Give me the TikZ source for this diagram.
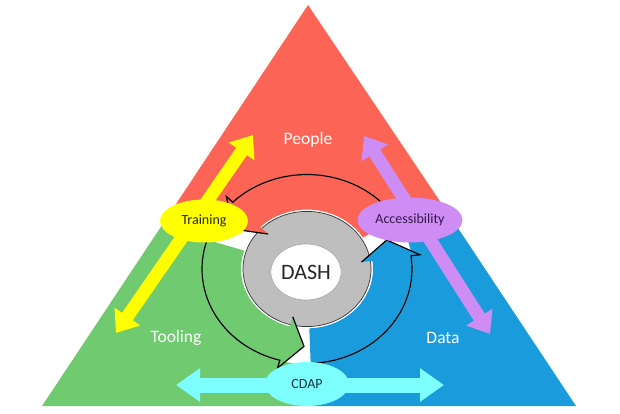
\documentclass[tikz,border=0pt]{standalone}
\usepackage{fontspec}
\setmainfont{Carlito}
\usetikzlibrary{arrows.meta,shapes.geometric}
\definecolor{cred}{RGB}{252,100,86}
\definecolor{cgreen}{RGB}{112,202,112}
\definecolor{cblue}{RGB}{26,156,220}
\definecolor{cyel}{RGB}{255,255,0}
\definecolor{clav}{RGB}{206,140,245}
\definecolor{ccyan}{RGB}{125,255,255}
\definecolor{cgrey}{RGB}{190,190,190}
\newcommand\cycarr[4]{%
  \fill[#1] (#2:66) -- (#2:105) arc[start angle=#2, end angle=#3, radius=105]
    -- (#3:114) -- (#4:86) -- (#3:55) -- (#3:66)
    arc[start angle=#3, end angle=#2, radius=66] -- cycle;
  \draw[outl] (#2:105) arc[start angle=#2, end angle=#3, radius=105]
    -- (#3:114) -- (#4:86) -- (#3:55);
}
\begin{document}
\begin{tikzpicture}[x=1pt,y=1pt,
  lbl/.style={text=white, font=\fontsize{17.5}{20}\selectfont},
  oval/.style={ellipse, inner sep=0pt, font=\fontsize{14}{16}\selectfont},
  outl/.style={draw=black, line width=1.2pt, line join=miter},
  dblarrow/.style={line width=13pt, {Triangle[length=20pt,width=30pt]}-{Triangle[length=20pt,width=30pt]}},
]
\useasboundingbox (0,0) rectangle (620,413);
\fill[white] (0,0) rectangle (620,413);
% triangle regions
\coordinate (apex) at (308,408);
\coordinate (bl) at (42,7);
\coordinate (br) at (576,7);
\coordinate (ml) at (163.4,190);
\coordinate (mr) at (454.6,190);
\coordinate (mc) at (307,190);
\coordinate (bc) at (307,7);
\fill[cred] (apex) -- (ml) -- (mr) -- cycle;
\fill[cgreen] (ml) -- (bl) -- (bc) -- (mc) -- cycle;
\fill[cblue] (mc) -- (bc) -- (br) -- (mr) -- cycle;
% cycle
\begin{scope}[shift={(307,144)}, yscale=0.9]
  \fill[white] (0,0) circle[radius=105.5];
  \filldraw[fill=cgrey, draw=black!80, line width=0.7pt] (0,0) circle[radius=64];
  \cycarr{cred}{32}{135}{149}
  \cycarr{cgreen}{162}{255}{268}
  \cycarr{cblue}{272}{368}{382}
\end{scope}
\node[ellipse, fill=white, draw=black!35, line width=0.6pt, minimum width=66pt, minimum height=56pt,
  inner sep=0pt, text=black!85, font=\fontsize{22}{24}\selectfont] (dash) at (306,141) {DASH};
% double arrows
\coordinate (y1) at (253,278);
\coordinate (y2) at (116,80);
\coordinate (p1) at (364,277);
\coordinate (p2) at (490,79);
\coordinate (c1) at (176,28);
\coordinate (c2) at (444,28);
\draw[dblarrow, cyel] (y1) -- (y2);
\draw[dblarrow, clav] (p1) -- (p2);
\draw[dblarrow, ccyan, line width=15pt, {Triangle[length=24pt,width=32pt]}-{Triangle[length=24pt,width=32pt]}] (c1) -- (c2);
% ovals
\node[oval, fill=cyel, minimum width=88pt, minimum height=43pt, text={rgb,255:red,40;green,40;blue,20}] (train) at (204,192) {Training};
\node[oval, fill=clav, minimum width=105pt, minimum height=45pt, text={rgb,255:red,50;green,25;blue,70}] (acc) at (410,193) {Accessibility};
\node[oval, fill=ccyan, minimum width=84pt, minimum height=44pt, text={rgb,255:red,25;green,50;blue,60}] (cdap) at (307,29) {CDAP};
% labels
\node[lbl] (people) at (308,273) {People};
\node[lbl] (tool) at (176,75) {Tooling};
\node[lbl] (data) at (443,75) {Data};
\end{tikzpicture}
\end{document}
